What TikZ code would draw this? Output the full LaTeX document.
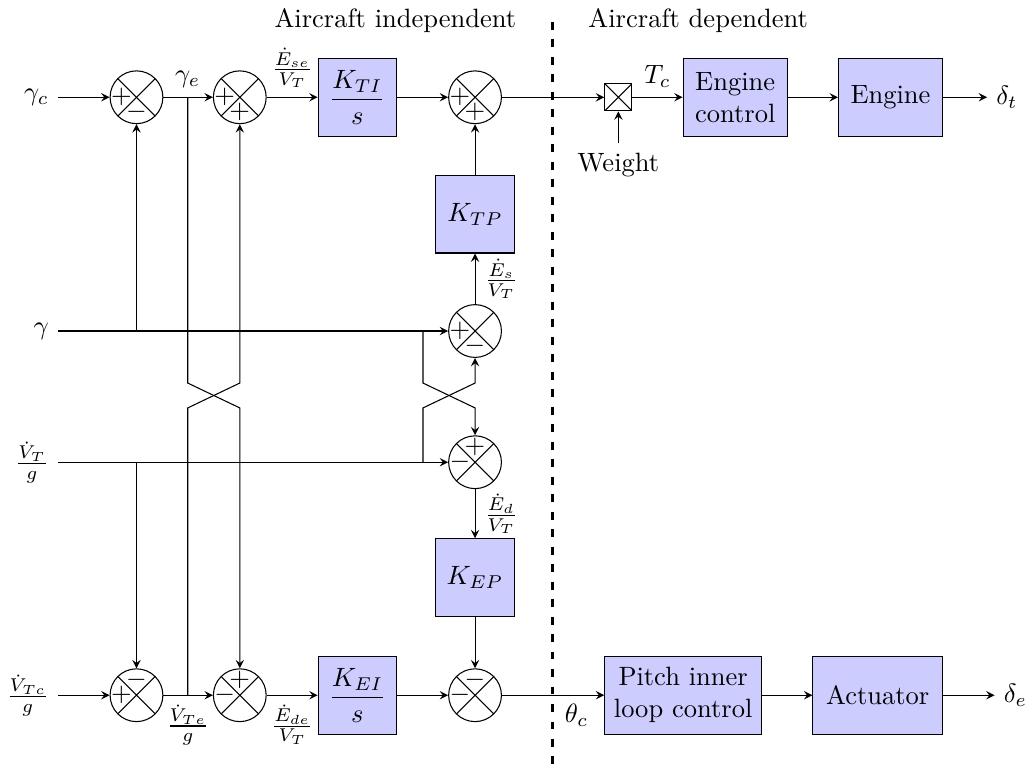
\documentclass[tikz,border=0pt]{standalone}
\usepackage{amsmath}
\usetikzlibrary{arrows,calc}

\tikzset{
  cross/.style={path picture={
      \draw (path picture bounding box.north west) -- (path picture bounding box.south east)
            (path picture bounding box.north east) -- (path picture bounding box.south west);}},
  sum/.style={draw, circle, minimum size=0.70cm, inner sep=0pt, cross},
  mult/.style={draw, minimum size=0.36cm, inner sep=0pt, cross},
  block/.style={draw, fill=blue!20, minimum width=1.04cm, minimum height=1.03cm, align=center},
  sign/.style={inner sep=0pt},
  >=stealth
}

\begin{document}
\begin{tikzpicture}
  \useasboundingbox (0,0) rectangle (13.62,-10.22);

  %%%%%%%%%%%%%%%%%%%%%%%%%%%%%%%%%%%%%%%%%%%%%%
  % Split: aircraft independent / dependent
  %%%%%%%%%%%%%%%%%%%%%%%%%%%%%%%%%%%%%%%%%%%%%%
  \coordinate (dtop) at (7.33,-0.29);
  \coordinate (dbot) at (7.33,-10.22);
  \draw[line width=1pt, dash pattern=on 3pt off 3.6pt] (dtop) -- (dbot);
  \node[anchor=base east] (indep) at (6.97,-0.36) {Aircraft independent};
  \node[anchor=base west] (dep) at (7.68,-0.36) {Aircraft dependent};

  %%%%%%%%%%%%%%%%%%%%%%%%%%%%%%%%%%%%%%%%%%%%%%
  % Nodes
  %%%%%%%%%%%%%%%%%%%%%%%%%%%%%%%%%%%%%%%%%%%%%%
  % inputs
  \node[anchor=east] (gc) at (0.77,-1.29) {$\gamma_c$};
  \node[anchor=east] (gam) at (0.77,-4.39) {$\gamma$};
  \node[anchor=east] (vt) at (0.77,-6.13) {$\frac{\dot{V}_T}{g}$};
  \node[anchor=east] (vtc) at (0.77,-9.22) {$\frac{\dot{V}_{Tc}}{g}$};

  % thrust path
  \node[sum] (sgc) at (1.81,-1.29) {};
  \node[sum] (sge) at (3.18,-1.29) {};
  \node[block] (kti) at (4.74,-1.29) {$\dfrac{K_{TI}}{s}$};
  \node[sum] (sth) at (6.30,-1.29) {};
  \node[block] (ktp) at (6.30,-2.84) {$K_{TP}$};
  \node[sum] (ses) at (6.30,-4.39) {};
  \node[mult] (mul) at (8.20,-1.29) {};
  \node[anchor=north] (wt) at (8.20,-1.90) {Weight};
  \node[block, minimum width=1.38cm] (ec) at (9.75,-1.29) {Engine\\control};
  \node[block, minimum width=1.38cm] (eng) at (11.81,-1.29) {Engine};
  \node[anchor=west] (dt) at (13.09,-1.29) {$\delta_t$};

  % elevator path
  \node[sum] (sed) at (6.30,-6.13) {};
  \node[block] (kep) at (6.30,-7.66) {$K_{EP}$};
  \node[sum] (svc) at (1.81,-9.22) {};
  \node[sum] (sve) at (3.18,-9.22) {};
  \node[block] (kei) at (4.74,-9.22) {$\dfrac{K_{EI}}{s}$};
  \node[sum] (sdc) at (6.30,-9.22) {};
  \node[block, minimum width=2.08cm] (pit) at (9.06,-9.22) {Pitch inner\\loop control};
  \node[block, minimum width=1.72cm] (act) at (11.64,-9.22) {Actuator};
  \node[anchor=west] (de) at (13.19,-9.22) {$\delta_e$};

  % signs
  \node[sign] at ([xshift=-2mm]sgc.center) {$+$};
  \node[sign] at ([yshift=-2mm]sgc.center) {$-$};
  \node[sign] at ([xshift=-2mm]sge.center) {$+$};
  \node[sign] at ([yshift=-2mm]sge.center) {$+$};
  \node[sign] at ([xshift=-2mm]sth.center) {$+$};
  \node[sign] at ([yshift=-2mm]sth.center) {$+$};
  \node[sign] at ([xshift=-2mm]ses.center) {$+$};
  \node[sign] at ([yshift=-2mm]ses.center) {$-$};
  \node[sign] at ([xshift=-2mm]sed.center) {$-$};
  \node[sign] at ([yshift=2mm]sed.center) {$+$};
  \node[sign] at ([xshift=-2mm]svc.center) {$+$};
  \node[sign] at ([yshift=2mm]svc.center) {$-$};
  \node[sign] at ([xshift=-2mm]sve.center) {$-$};
  \node[sign] at ([yshift=2mm]sve.center) {$+$};
  \node[sign] at ([xshift=-2mm]sdc.center) {$-$};
  \node[sign] at ([yshift=2mm]sdc.center) {$-$};

  %%%%%%%%%%%%%%%%%%%%%%%%%%%%%%%%%%%%%%%%%%%%%%
  % Connections
  %%%%%%%%%%%%%%%%%%%%%%%%%%%%%%%%%%%%%%%%%%%%%%
  \coordinate (jge) at (2.49,-1.29);
  \coordinate (jve) at (2.49,-9.22);
  \coordinate (cg) at (5.61,-4.39);
  \coordinate (cv) at (5.61,-6.13);

  % top row
  \draw[->] (gc) -- (sgc);
  \draw[->] (sgc) -- (sge);
  \node[above] (lge) at (jge) {$\gamma_e$};
  \draw[->] (sge) -- (kti) node[midway, above] (lese) {$\frac{\dot{E}_{se}}{V_T}$};
  \draw[->] (kti) -- (sth);
  \draw[->] (sth) -- (mul);
  \draw[->] (mul) -- (ec) node[midway, above] (ltc) {$T_c$};
  \draw[->] (wt) -- (mul);
  \draw[->] (ec) -- (eng);
  \draw[->] (eng) -- (dt);
  \draw[->] (ktp) -- (sth);
  \draw[->] (ses) -- (ktp) node[midway, right] (les) {$\frac{\dot{E}_s}{V_T}$};

  % gamma and Vdot/g rows
  \draw[->] (gam) -- (ses);
  \draw[->] (gam.east -| sgc) -- (sgc);
  \draw[->] (vt) -- (sed);
  \draw[->] (vt.east -| svc) -- (svc);

  % crossings
  \draw[->] (jge) -- ++(0,-3.79) -- ++(0.69,-0.33) -- (sve);
  \draw[->] (jve) -- ++(0,3.81) -- ++(0.69,0.33) -- (sge);
  \draw[->] (cg) -- ++(0,-0.69) -- ++(0.69,-0.33) -- (sed);
  \draw[->] (cv) -- ++(0,0.72) -- ++(0.69,0.33) -- (ses);

  % bottom row
  \draw[->] (sed) -- (kep) node[midway, right] (led) {$\frac{\dot{E}_d}{V_T}$};
  \draw[->] (kep) -- (sdc);
  \draw[->] (vtc) -- (svc);
  \draw[->] (svc) -- (sve);
  \node[below] (lve) at (jve) {$\frac{\dot{V}_{Te}}{g}$};
  \draw[->] (sve) -- (kei) node[midway, below] (lede) {$\frac{\dot{E}_{de}}{V_T}$};
  \draw[->] (kei) -- (sdc);
  \draw[->] (sdc) -- (pit) node[pos=0.73, below] (ltheta) {$\theta_c$};
  \draw[->] (pit) -- (act);
  \draw[->] (act) -- (de);
\end{tikzpicture}
\end{document}
